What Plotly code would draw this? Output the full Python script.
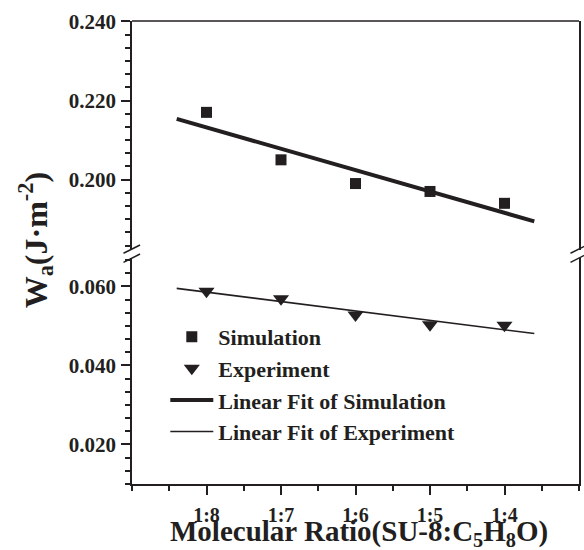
import numpy as np
import plotly.graph_objects as go

# ---- data ----
categories = ["1:8", "1:7", "1:6", "1:5", "1:4"]
cat_pos = [1, 2, 3, 4, 5]
simulation = [0.217, 0.205, 0.199, 0.197, 0.194]
experiment = [0.0588, 0.0569, 0.0528, 0.0503, 0.0502]
fit_span = [0.6, 5.4]

INK = "#231f20"
FONT = "Liberation Serif, Times New Roman, serif"

# linear fits (least squares on the plotted data)
ks, bs = np.polyfit(cat_pos, simulation, 1)
ke, be = np.polyfit(cat_pos, experiment, 1)
fit_x = np.array(fit_span)

fig = go.Figure()
fig.add_trace(go.Scatter(x=cat_pos, y=simulation, mode="markers", name="Simulation",
                         marker=dict(symbol="square", size=11, color=INK),
                         xaxis="x2", yaxis="y2"))
fig.add_trace(go.Scatter(x=cat_pos, y=experiment, mode="markers", name="Experiment",
                         marker=dict(symbol="triangle-down", size=14, color=INK),
                         xaxis="x", yaxis="y"))
fig.add_trace(go.Scatter(x=fit_x, y=ks * fit_x + bs, mode="lines", name="Linear Fit of Simulation",
                         line=dict(color=INK, width=4), xaxis="x2", yaxis="y2"))
fig.add_trace(go.Scatter(x=fit_x, y=ke * fit_x + be, mode="lines", name="Linear Fit of Experiment",
                         line=dict(color=INK, width=1.6), xaxis="x", yaxis="y"))

tickfont = dict(family=FONT, size=21, color=INK, weight="bold")

yaxis_common = dict(
    showgrid=False, zeroline=False, showline=True, mirror=True,
    linecolor=INK, linewidth=1.5, ticks="outside", ticklen=9, tickwidth=1.5,
    tickcolor=INK, tick0=0, dtick=0.02, tickformat=".3f", tickfont=tickfont,
    ticklabelstandoff=1,
    minor=dict(ticks="outside", ticklen=5, tickwidth=1.5, tickcolor=INK, dtick=0.02 / 6, tick0=0),
)

fig.update_layout(
    width=584, height=550,
    margin=dict(l=132, r=3, t=21, b=66),
    paper_bgcolor="white", plot_bgcolor="white",
    showlegend=True,
    legend=dict(x=0.0745, y=0.363, xanchor="left", yanchor="top",
                bgcolor="rgba(0,0,0,0)", itemwidth=43,
                font=dict(family=FONT, size=22, color=INK, weight="bold"),
                tracegroupgap=0),
    xaxis=dict(
        domain=[0, 1], anchor="y", range=[0, 6],
        tickvals=cat_pos, ticktext=categories,
        showgrid=False, zeroline=False, showline=True, mirror=False,
        linecolor=INK, linewidth=1.5, ticks="outside", ticklen=9, tickwidth=1.5,
        tickcolor=INK, tickfont=dict(family=FONT, size=20, color=INK, weight="bold"),
        ticklabelstandoff=3,
        minor=dict(ticks="outside", ticklen=5, tickwidth=1.5, tickcolor=INK, dtick=0.5, tick0=0),
    ),
    xaxis2=dict(
        domain=[0, 1], anchor="y2", range=[0, 6], matches="x",
        showgrid=False, zeroline=False, showline=False, showticklabels=False, ticks="",
    ),
    yaxis=dict(domain=[0, 0.4881], anchor="x", range=[0.0100, 0.0672], **yaxis_common),
    yaxis2=dict(domain=[0.5054, 1], anchor="x2", range=[0.1822, 0.2401], **yaxis_common),
)

# top frame line and axis-break marks
shapes = [dict(type="line", xref="paper", yref="paper", x0=0, x1=1, y0=1, y1=1,
               line=dict(color=INK, width=1.5))]
for xc in (0.0, 1.0):
    for y0, y1 in ((0.4983, 0.5162), (0.4788, 0.4968)):
        shapes.append(dict(type="line", xref="paper", yref="paper",
                           x0=xc - 0.019, x1=xc + 0.018, y0=y0, y1=y1,
                           line=dict(color=INK, width=1.5)))
fig.update_layout(shapes=shapes)

fig.add_annotation(text="W<sub>a</sub>(J·m<sup>-2</sup>)", textangle=-90,
                   xref="paper", yref="paper", x=-0.214, y=0.527,
                   xanchor="center", yanchor="middle", showarrow=False,
                   font=dict(family=FONT, size=32, color=INK, weight="bold"))

fig.add_annotation(text="Molecular Ratio(SU-8:C<sub>5</sub>H<sub>8</sub>O)",
                   xref="paper", yref="paper", x=0.508, y=-0.062,
                   xanchor="center", yanchor="top", showarrow=False,
                   font=dict(family=FONT, size=29, color=INK, weight="bold"))

fig.write_html("out.html", config={"displayModeBar": False},
               post_script="document.body.style.margin='0px';")
